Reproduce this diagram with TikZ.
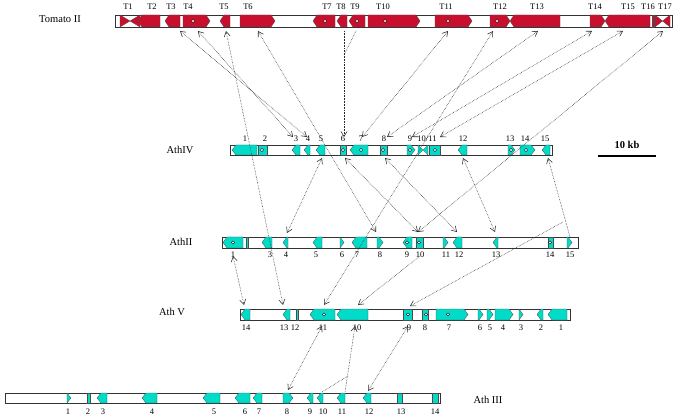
\documentclass[tikz,border=0pt]{standalone}
\usepackage{fontspec}
\setmainfont{Liberation Serif}
\usetikzlibrary{arrows.meta}
\definecolor{tomred}{RGB}{200,16,46}
\definecolor{athcyan}{RGB}{0,220,200}
\tikzset{
  chrom/.style={draw=black!80,fill=white,line width=.6pt},
  link/.style={densely dotted,line width=.55pt,black!85,
    {Straight Barb[length=5pt,width=6pt]}-{Straight Barb[length=5pt,width=6pt]}},
  num/.style={font=\fontsize{8.5}{8.5}\selectfont,inner sep=0pt},
  chrname/.style={font=\fontsize{10.5}{10.5}\selectfont,inner sep=0pt}
}
% genes: y, x1, x2
\newcommand\gR[3]{\fill[\gc,draw=black!70,line width=.3pt] (#2,#1-\hh) -- ({max(#2,#3-4)},#1-\hh) -- (#3,#1) -- ({max(#2,#3-4)},#1+\hh) -- (#2,#1+\hh) -- cycle;}
\newcommand\gL[3]{\fill[\gc,draw=black!70,line width=.3pt] (#3,#1-\hh) -- ({min(#3,#2+4)},#1-\hh) -- (#2,#1) -- ({min(#3,#2+4)},#1+\hh) -- (#3,#1+\hh) -- cycle;}
\newcommand\gB[3]{\fill[\gc,draw=black!70,line width=.3pt] (#2,#1-\hh) rectangle (#3,#1+\hh);}
\newcommand\gX[3]{\fill[\gc,draw=black!70,line width=.3pt] (#2,#1-\hh) -- ({(#2+#3)/2},#1) -- (#3,#1-\hh) -- (#3,#1+\hh) -- ({(#2+#3)/2},#1) -- (#2,#1+\hh) -- cycle;}
\newcommand\dt[2]{\draw[fill=white,line width=.4pt] (#2,#1) circle (1.6);}
\begin{document}
\begin{tikzpicture}[x=1pt,y=-1pt]
\useasboundingbox (0,0) rectangle (679,419);

% Tomato II
\def\hh{6}\def\gc{tomred}
\node[chrname] at (60,19) {Tomato II};
\draw[chrom] (115,15) rectangle (672,27);
\gX{21}{120}{140} \gL{21}{138}{160} \gL{21}{165}{180} \gR{21}{183}{210} \dt{21}{193}
\gL{21}{220}{230} \gR{21}{240}{275} \gL{21}{313}{335} \dt{21}{325}
\gL{21}{337}{347} \gL{21}{349}{365} \dt{21}{357}
\gR{21}{368}{420} \dt{21}{385} \gR{21}{435}{472} \dt{21}{448}
\gR{21}{490}{510} \dt{21}{497} \gL{21}{510}{560} \gR{21}{590}{605}
\gL{21}{605}{650} \gB{21}{652}{654} \gX{21}{655}{670}
\foreach \x/\t in {128/1,152/2,171/3,188/4,224/5,248/6,327/7,341/8,355/9,383/10,446/11,500/12,537/13,595/14,628/15,648/16,665/17}
  \node[num] at (\x,7) {T\t};

% AthIV
\def\hh{5}\def\gc{athcyan}
\node[chrname] at (180,150) {AthIV};
\draw[chrom] (230,145) rectangle (552,155);
\gL{150}{232}{257} \gB{150}{258}{267} \dt{150}{262} \gL{150}{292}{300}
\gL{150}{304}{310} \gL{150}{316}{325} \gB{150}{340}{346} \dt{150}{343}
\gL{150}{350}{368} \dt{150}{361} \gB{150}{380}{387} \dt{150}{383}
\gR{150}{407}{415} \dt{150}{410} \gX{150}{418}{428} \gB{150}{429}{440} \dt{150}{435}
\gL{150}{458}{467} \gR{150}{508}{515} \dt{150}{511} \gR{150}{520}{535} \dt{150}{526}
\gL{150}{542}{550}
\foreach \x/\t in {245/1,265/2,296/3,308/4,321/5,343/6,361/7,384/8,410/9,427/{10/11},463/12,510/13,525/14,545/15}
  \node[num] at (\x,139) {\t};

% scale bar
\node[font=\bfseries\fontsize{10.5}{10.5}\selectfont,inner sep=0pt] (kb) at (627,145) {10 kb};
\draw[line width=1.2pt] (598,156) -- (656,156);

% AthII
\node[chrname] at (181,242) {AthII};
\draw[chrom] (222,237) rectangle (578,248);
\def\hh{5.5}
\gL{242.5}{223}{243} \dt{242.5}{233} \gB{242.5}{246}{248} \gL{242.5}{262}{272}
\gL{242.5}{283}{288} \gL{242.5}{313}{322} \gR{242.5}{340}{344} \gL{242.5}{352}{367}
\gR{242.5}{377}{383} \gL{242.5}{403}{412} \dt{242.5}{407} \gB{242.5}{416}{423} \dt{242.5}{419}
\gR{242.5}{443}{448} \gL{242.5}{453}{462} \gL{242.5}{493}{498}
\gB{242.5}{548}{553} \dt{242.5}{550} \gR{242.5}{567}{572}
\foreach \x/\t in {233/1,270/3,286/4,316/5,342/6,357/7,380/8,407/9,420/10,446/11,459/12,496/13,550/14,570/15}
  \node[num] at (\x,255) {\t};

% Ath V
\node[chrname] at (172,312) {Ath V};
\draw[chrom] (240,309) rectangle (570,320);
\gL{314.5}{241}{250} \gL{314.5}{283}{290} \gB{314.5}{296}{298}
\gL{314.5}{310}{335} \dt{314.5}{324} \gL{314.5}{337}{368}
\gB{314.5}{403}{412} \dt{314.5}{408} \gB{314.5}{422}{428} \dt{314.5}{426}
\gR{314.5}{436}{468} \dt{314.5}{448} \gR{314.5}{478}{483} \gR{314.5}{487}{493}
\gR{314.5}{495}{513} \gR{314.5}{519}{523} \gL{314.5}{537}{543} \gL{314.5}{548}{567}
\foreach \x/\t in {246/14,284/13,295/12,323/11,357/10,409/9,425/8,449/7,480/6,490/5,503/4,521/3,541/2,561/1}
  \node[num] at (\x,328) {\t};

% Ath III
\node[chrname] at (488,400) {Ath III};
\draw[chrom] (5,393) rectangle (440,403);
\def\hh{5}
\gR{398}{67}{71} \gB{398}{87}{90} \gL{398}{97}{107} \gL{398}{142}{157}
\gL{398}{203}{220} \gL{398}{235}{250} \gL{398}{253}{262} \gR{398}{283}{293}
\gL{398}{307}{313} \gL{398}{317}{323} \gL{398}{337}{345} \gL{398}{363}{371}
\gB{398}{397}{402} \gB{398}{432}{438}
\foreach \x/\t in {68/1,88/2,103/3,152/4,214/5,245/6,259/7,287/8,310/9,323/10,342/11,369/12,401/13,435/14}
  \node[num] at (\x,412) {\t};

% homology links
\coordinate (t3) at (180,31); \coordinate (t4) at (198,31); \coordinate (t5) at (226,31);
\coordinate (t6) at (258,31); \coordinate (t8) at (344,31); \coordinate (t9) at (356,31);
\coordinate (t11) at (448,31); \coordinate (t12) at (493,31); \coordinate (t13) at (538,31);
\coordinate (t14) at (592,31); \coordinate (t15) at (623,31); \coordinate (t17) at (663,31);
\draw[link] (t3) -- (307,137);
\draw[link] (t4) -- (293,137);
\draw[link] (t5) -- (283,305);
\draw[link] (t6) -- (376,232);
\draw[link,-{Straight Barb[length=5pt,width=6pt]}] (t8) -- (344,137);
\draw[link,-] (t9) -- (344,55);
\draw[link] (t11) -- (362,137);
\draw[link] (t12) -- (324,305);
\draw[link] (t13) -- (387,137);
\draw[link] (t14) -- (412,137);
\draw[link] (t15) -- (440,137);
\draw[link] (t17) -- (418,232);
\draw[link] (322,158) -- (287,233);
\draw[link] (345,158) -- (418,232);
\draw[link] (385,158) -- (457,232);
\draw[link] (463,158) -- (495,232);
\draw[link,{Straight Barb[length=5pt,width=6pt]}-] (548,158) -- (570,237);
\coordinate (br) at (563,222);
\draw[link,-{Straight Barb[length=5pt,width=6pt]}] (br) -- (410,306);
\draw[link] (233,256) -- (244,305);
\draw[link,-{Straight Barb[length=5pt,width=6pt]}] (420,256) -- (358,305);
\draw[link] (322,326) -- (288,390);
\draw[link,{Straight Barb[length=5pt,width=6pt]}-] (355,326) -- (345,392);
\draw[link,-] (348,376) -- (322,392);
\draw[link] (408,326) -- (368,391);
\end{tikzpicture}
\end{document}
